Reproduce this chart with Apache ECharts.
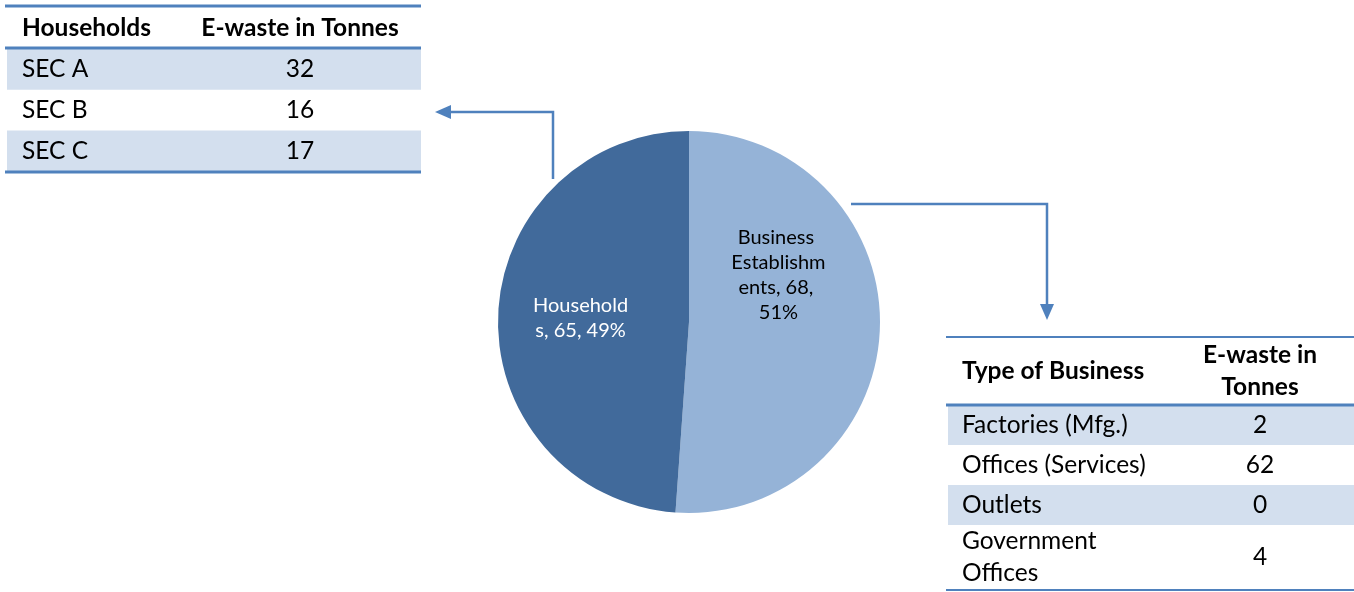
<!DOCTYPE html>
<html>
<head>
<meta charset="utf-8">
<script src="https://cdn.jsdelivr.net/npm/echarts@6/dist/echarts.min.js"></script>
<style>
  html, body { margin: 0; padding: 0; background: #fff; }
  #chart { width: 1354px; height: 592px; }
</style>
</head>
<body>
<div id="chart"></div>
<script>
// E-waste split between households and business establishments
const pieNames = ['Business Establishments', 'Households'];
const pieValues = [68, 65];

// Household breakdown table
const householdHeader = ['Households', 'E-waste in Tonnes'];
const householdRows = ['SEC A', 'SEC B', 'SEC C'];
const householdTonnes = [32, 16, 17];

// Business breakdown table
const businessHeader = ['Type of Business', 'E-waste in\nTonnes'];
const businessRows = ['Factories (Mfg.)', 'Offices (Services)', 'Outlets', 'Government\nOffices'];
const businessTonnes = [2, 62, 0, 4];

const FONT = 'Lato, "Open Sans", sans-serif';
const TABLE_FONT_SIZE = 24.5;
const RULE = '#4F81BD';
const BAND = '#D3DFEE';
const sliceColors = ['#95B3D7', '#416A9B'];
const sliceLabelColors = ['#000000', '#ffffff'];
const sliceLabelPadding = [[0, 18, 0, 0], [0, 20, 0, 0]];
// blank lines appended below a label lift its text block inside the slice
const sliceLabelLift = ['\n\n\n\n\n', ''];

const chart = echarts.init(document.getElementById('chart'), null, { renderer: 'canvas' });

function txt(text, x, y, opts) {
  return {
    type: 'text',
    z: 10,
    style: Object.assign({
      text: String(text), x: x, y: y,
      fill: '#000', fontFamily: FONT, fontSize: TABLE_FONT_SIZE,
      align: 'left', verticalAlign: 'middle', lineHeight: 32
    }, opts || {})
  };
}
function rule(x1, x2, y, w) {
  return { type: 'line', z: 5, shape: { x1: x1, y1: y, x2: x2, y2: y }, style: { stroke: RULE, lineWidth: w } };
}
function band(x, y, w, h) {
  return { type: 'rect', z: 1, shape: { x: x, y: y, width: w, height: h }, style: { fill: BAND } };
}

const graphics = [];

// ---- household table (top left) ----
(function () {
  const x0 = 5, x1 = 421, c1 = 22, c2 = 300;
  const rowTop = 49, rowH = 40.7;
  graphics.push(rule(x0, x1, 6, 3));
  graphics.push(txt(householdHeader[0], c1, 28, { fontWeight: 'bold' }));
  graphics.push(txt(householdHeader[1], c2, 28, { fontWeight: 'bold', align: 'center' }));
  householdRows.forEach(function (name, i) {
    const top = rowTop + i * rowH;
    if (i % 2 === 0) graphics.push(band(x0 + 2, top, x1 - x0 - 2, rowH));
    graphics.push(txt(name, c1, top + rowH / 2));
    graphics.push(txt(householdTonnes[i], c2, top + rowH / 2, { align: 'center' }));
  });
  graphics.push(rule(x0, x1, 48, 3));
  graphics.push(rule(x0, x1, rowTop + householdRows.length * rowH + 1, 3));
})();

// ---- business table (bottom right) ----
(function () {
  const x0 = 946, x1 = 1354, c1 = 962, c2 = 1260;
  const rowTops = [406, 445, 485, 525, 589];
  graphics.push(rule(x0, x1, 337, 2));
  graphics.push(txt(businessHeader[0], c1, 371, { fontWeight: 'bold' }));
  graphics.push(txt(businessHeader[1], c2, 371, { fontWeight: 'bold', align: 'center' }));
  businessRows.forEach(function (name, i) {
    const top = rowTops[i], h = rowTops[i + 1] - top;
    if (i % 2 === 0) graphics.push(band(x0 + 2, top, x1 - x0 - 2, h));
    graphics.push(txt(name, c1, top + h / 2));
    graphics.push(txt(businessTonnes[i], c2, top + h / 2, { align: 'center' }));
  });
  graphics.push(rule(x0, x1, 405, 3));
  graphics.push(rule(x0, x1, 590, 2));
})();

// ---- connector arrows ----
graphics.push({ type: 'polyline', z: 6, shape: { points: [[553, 179], [553, 112], [447, 112]] },
  style: { stroke: RULE, lineWidth: 2.5, fill: null } });
graphics.push({ type: 'polygon', z: 6, shape: { points: [[435, 112], [451, 105], [451, 119]] },
  style: { fill: RULE } });
graphics.push({ type: 'polyline', z: 6, shape: { points: [[851, 204], [1047, 204], [1047, 308]] },
  style: { stroke: RULE, lineWidth: 2.5, fill: null } });
graphics.push({ type: 'polygon', z: 6, shape: { points: [[1047, 320], [1040, 304], [1054, 304]] },
  style: { fill: RULE } });

chart.setOption({
  animation: false,
  backgroundColor: '#ffffff',
  graphic: graphics,
  series: [{
    type: 'pie',
    center: [689, 322],
    radius: 191,
    startAngle: 90,
    clockwise: true,
    percentPrecision: 0,
    avoidLabelOverlap: false,
    labelLine: { show: false },
    emphasis: { disabled: true },
    data: pieNames.map(function (n, i) {
      return {
        name: n,
        value: pieValues[i],
        itemStyle: { color: sliceColors[i], borderWidth: 0 },
        label: {
          color: sliceLabelColors[i],
          padding: sliceLabelPadding[i]
        }
      };
    }),
    label: {
      show: true,
      position: 'inside',
      formatter: function (p) {
        return p.name + ', ' + p.value + ', ' + p.percent + '%' + sliceLabelLift[p.dataIndex];
      },
      fontFamily: FONT,
      fontSize: 20,
      lineHeight: 25,
      align: 'center',
      width: 100,
      overflow: 'break'
    }
  }]
});
</script>
</body>
</html>
